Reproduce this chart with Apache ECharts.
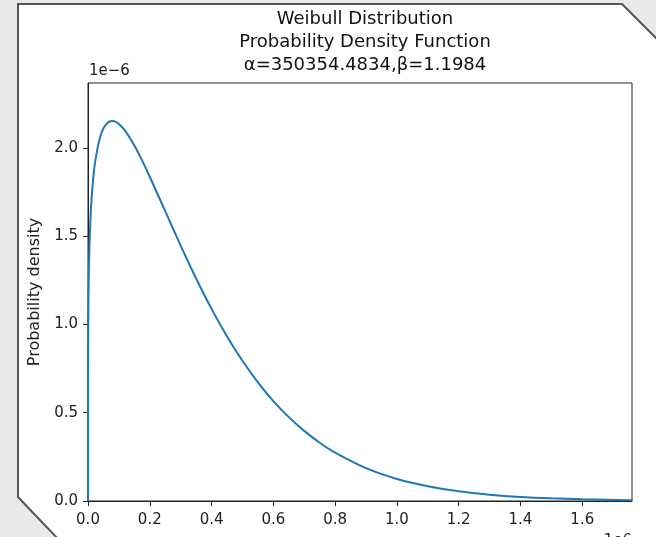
<!DOCTYPE html>
<html>
<head>
<meta charset="utf-8">
<script src="https://cdn.jsdelivr.net/npm/echarts@6/dist/echarts.min.js"></script>
<style>
  html, body { margin: 0; padding: 0; background: #e9e9e9; }
  #main { width: 656px; height: 537px; }
</style>
</head>
<body>
<div id="main"></div>
<script>
// x in units of 1e6, density in units of 1e-6
var xValues = [0, 0.0001, 0.001, 0.002, 0.003, 0.005, 0.01, 0.02, 0.03, 0.04, 0.05, 0.06, 0.07, 0.08, 0.09,
  0.1, 0.12, 0.15, 0.175, 0.2, 0.25, 0.3, 0.35, 0.4, 0.45, 0.5, 0.55, 0.6, 0.65, 0.7, 0.75, 0.8,
  0.9, 1.0, 1.1, 1.2, 1.3, 1.4, 1.5, 1.6, 1.761];
var pdfValues = [0, 0.68, 1.07, 1.22, 1.33, 1.46, 1.67, 1.88, 1.99, 2.065, 2.11, 2.136, 2.149, 2.152, 2.147,
  2.135, 2.097, 2.013, 1.929, 1.836, 1.641, 1.446, 1.26, 1.088, 0.932, 0.794, 0.672, 0.566, 0.475, 0.397, 0.330, 0.274,
  0.186, 0.125, 0.084, 0.055, 0.036, 0.023, 0.015, 0.0096, 0.0044];
var xTicks = [0, 0.2, 0.4, 0.6, 0.8, 1.0, 1.2, 1.4, 1.6];
var yTicks = [0, 0.5, 1.0, 1.5, 2.0];
var xMax = 1.761;
var yMax = 2.367;

var titleLines = ['Weibull Distribution', 'Probability Density Function', 'α=350354.4834,β=1.1984'];

var chart = echarts.init(document.getElementById('main'));

var seriesData = xValues.map(function (x, i) { return [x, pdfValues[i]]; });

var font = 'DejaVu Sans';

var option = {
  animation: false,
  backgroundColor: '#e9e9e9',
  title: {
    text: titleLines.join('\n'),
    left: 360,
    top: 3,
    textAlign: 'center',
    textStyle: { fontFamily: font, fontSize: 18, fontWeight: 'normal', color: '#111', lineHeight: 23 }
  },
  grid: {
    left: 88, right: 24, top: 83, bottom: 36,
    show: true, borderColor: '#222', borderWidth: 1, backgroundColor: '#fff'
  },
  graphic: [
    {   // panel with clipped corners
      type: 'polygon', z: -10, silent: true,
      shape: { points: [[18, 4], [622, 4], [660, 42], [660, 541], [60, 541], [18, 497]] },
      style: { fill: '#fff', stroke: '#555', lineWidth: 2 }
    },
    {
      type: 'text', left: 89, top: 64, z: 10,
      style: { text: '1e\u22126', fontFamily: font, fontSize: 15, fill: '#222' }
    },
    {
      type: 'text', right: 24, top: 534, z: 10,
      style: { text: '1e6', fontFamily: font, fontSize: 15, fill: '#222' }
    }
  ],
  xAxis: {
    type: 'value', min: 0, max: xMax, interval: 0.2,
    axisLine: { show: true, lineStyle: { color: '#222', width: 1 } },
    axisTick: { show: true, length: 5, lineStyle: { color: '#222' } },
    splitLine: { show: false },
    axisLabel: {
      showMaxLabel: false, margin: 12,
      fontFamily: font, fontSize: 15, color: '#222',
      formatter: function (v) { return xTicks.indexOf(+v.toFixed(1)) >= 0 ? v.toFixed(1) : ''; }
    }
  },
  yAxis: {
    type: 'value', min: 0, max: yMax, interval: 0.5,
    name: 'Probability density', nameLocation: 'middle', nameGap: 38,
    nameTextStyle: { fontFamily: font, fontSize: 16, color: '#222' },
    axisLine: { show: true, lineStyle: { color: '#222', width: 1 } },
    axisTick: { show: true, length: 5, lineStyle: { color: '#222' } },
    splitLine: { show: false },
    axisLabel: {
      showMaxLabel: false, margin: 10,
      fontFamily: font, fontSize: 15, color: '#222',
      formatter: function (v) { return yTicks.indexOf(+v.toFixed(1)) >= 0 ? v.toFixed(1) : ''; }
    }
  },
  series: [{
    type: 'line',
    data: seriesData,
    showSymbol: false,
    smooth: 0.25,
    clip: true,
    lineStyle: { color: '#1f77b4', width: 2 }
  }]
};

chart.setOption(option);
</script>
</body>
</html>
